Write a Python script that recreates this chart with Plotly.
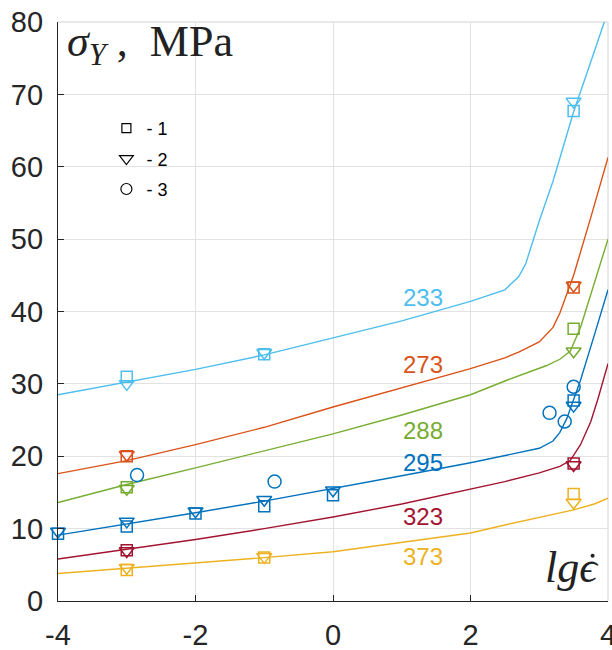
import plotly.graph_objects as go

# Yield stress curves for six temperatures (K) vs log strain rate
temps = ["233", "273", "288", "295", "323", "373"]
colors = ["#4DBEEE", "#D95319", "#77AC30", "#0072BD", "#A2142F", "#EDB120"]

x_233 = [-4, -3, -2, -1, 0, 1, 2, 2.5, 2.7, 2.8, 2.9, 3.0, 3.2, 3.5, 3.75, 4.0]
y_233 = [28.5, 30.2, 32.0, 34.0, 36.3, 38.7, 41.4, 43.0, 44.8, 46.5, 49.5, 52.5, 58.0, 67.6, 74.5, 81.5]

x_273 = [-4, -3, -2, -1, 0, 1, 2, 2.5, 2.7, 3.0, 3.2, 3.3, 3.4, 3.5, 3.75, 4.0]
y_273 = [17.6, 19.4, 21.6, 24.0, 26.8, 29.5, 32.1, 33.6, 34.4, 35.8, 37.8, 39.8, 42.3, 45.0, 53.0, 61.3]

x_288 = [-4, -3, -2, -1, 0, 1, 2, 2.5, 2.8, 3.1, 3.3, 3.45, 3.6, 3.8, 4.0]
y_288 = [13.6, 16.1, 18.4, 20.8, 23.1, 25.7, 28.5, 30.4, 31.5, 32.5, 33.4, 34.5, 37.8, 44.0, 50.0]

x_295 = [-4, -3, -2, -1, 0, 1, 2, 2.5, 3.0, 3.2, 3.3, 3.4, 3.5, 3.6, 3.8, 4.0]
y_295 = [9.1, 10.6, 12.2, 13.8, 15.5, 17.3, 19.1, 20.1, 21.1, 22.1, 23.3, 25.2, 27.8, 30.5, 36.7, 43.0]

x_323 = [-4, -3, -2, -1, 0, 1, 2, 2.5, 3.0, 3.3, 3.45, 3.6, 3.75, 3.85, 4.0]
y_323 = [5.8, 7.1, 8.5, 10.0, 11.6, 13.4, 15.4, 16.5, 17.7, 18.6, 19.4, 21.6, 24.8, 27.8, 32.8]

x_373 = [-4, -3, -2, -1, 0, 1, 2, 2.5, 3.0, 3.5, 3.8, 4.0]
y_373 = [3.8, 4.5, 5.2, 6.0, 6.8, 8.1, 9.4, 10.5, 11.6, 12.6, 13.4, 14.2]

curves_x = [x_233, x_273, x_288, x_295, x_323, x_373]
curves_y = [y_233, y_273, y_288, y_295, y_323, y_373]

# Experimental points: 1 - squares, 2 - triangles, 3 - circles
sq_x = {"233": [-3, -1, 3.5], "273": [-3, 3.5], "288": [-3, 3.5],
        "295": [-4, -3, -2, -1, 0, 3.5], "323": [-3, 3.5], "373": [-3, -1, 3.5]}
sq_y = {"233": [31.0, 34.1, 67.7], "273": [20.0, 43.3], "288": [15.7, 37.6],
        "295": [9.3, 10.3, 12.1, 13.1, 14.6, 27.7], "323": [7.0, 19.0], "373": [4.3, 6.0, 14.8]}
tri_x = sq_x
tri_y = {"233": [30.0, 34.3, 69.0], "273": [20.2, 43.6], "288": [15.5, 34.5],
         "295": [9.6, 11.0, 12.4, 14.0, 15.3, 27.0], "323": [6.9, 18.8], "373": [4.6, 6.1, 13.6]}
circ_x = [-2.85, -0.85, 3.15, 3.37, 3.5]
circ_y = [17.4, 16.5, 26.0, 24.8, 29.6]

# Curve labels
label_x = 1.31
label_y = [42.0, 32.7, 23.6, 19.2, 11.7, 6.2]

x_ticks = [-4, -2, 0, 2, 4]
x_ticktext = ["-4", "-2", "0", "2", "4"]
y_ticks = [0, 10, 20, 30, 40, 50, 60, 70, 80]

fig = go.Figure()

for t, c, xs, ys in zip(temps, colors, curves_x, curves_y):
    fig.add_trace(go.Scatter(x=xs, y=ys, mode="lines", line=dict(color=c, width=1.4),
                             showlegend=False, hoverinfo="skip"))

for t, c in zip(temps, colors):
    fig.add_trace(go.Scatter(x=sq_x[t], y=sq_y[t], mode="markers", showlegend=False,
                             cliponaxis=False,
                             marker=dict(symbol="square-open", size=11, color=c,
                                         line=dict(width=1.5, color=c))))
    fig.add_trace(go.Scatter(x=tri_x[t], y=tri_y[t], mode="markers", showlegend=False,
                             cliponaxis=False,
                             marker=dict(symbol="triangle-down-open", size=13, color=c,
                                         line=dict(width=1.5, color=c))))

fig.add_trace(go.Scatter(x=circ_x, y=circ_y, mode="markers", showlegend=False,
                         cliponaxis=False,
                         marker=dict(symbol="circle-open", size=13, color="#0072BD",
                                     line=dict(width=1.5, color="#0072BD"))))

# Legend entries for the point types
for name, sym, sz in [("- 1", "square-open", 9), ("- 2", "triangle-down-open", 12),
                      ("- 3", "circle-open", 11)]:
    fig.add_trace(go.Scatter(x=[None], y=[None], mode="markers", name=name,
                             legendgroup=name,
                             marker=dict(symbol=sym, size=sz, color="black",
                                         line=dict(width=1.2, color="black"))))

for t, c, ly in zip(temps, colors, label_y):
    fig.add_annotation(x=label_x, y=ly, text=t, showarrow=False,
                       font=dict(family="Liberation Sans, Arial", size=24, color=c))

# Axis titles placed inside the plot area
fig.add_annotation(xref="paper", yref="paper", x=0.012, y=0.962, xanchor="left",
                   yanchor="middle", showarrow=False,
                   text="<i>σ</i><sub><i>Y</i></sub> ,  MPa",
                   font=dict(family="Liberation Serif, Times New Roman", size=44, color="#222"))
fig.add_annotation(xref="paper", yref="paper", x=0.987, y=0.058, xanchor="right",
                   yanchor="middle", showarrow=False,
                   text="<i>lgϵ</i>",
                   font=dict(family="Liberation Serif, DejaVu Serif", size=44, color="#222"))
# dot accent over the epsilon
fig.add_shape(type="circle", xref="paper", yref="paper", xsizemode="pixel", ysizemode="pixel",
              xanchor=0.972, yanchor=0.078, x0=-2, x1=2, y0=-2, y1=2,
              fillcolor="#222", line=dict(width=0))

axis_common = dict(showgrid=True, gridcolor="#e2e2e2", gridwidth=1, zeroline=False,
                   showline=True, linecolor="#262626", linewidth=1.3,
                   ticks="inside", ticklen=6, tickcolor="#262626", tickwidth=1.2,
                   ticklabeloverflow="allow", automargin=False,
                   tickfont=dict(family="Liberation Sans, Arial", size=29, color="#262626"))

fig.update_xaxes(range=[-4, 4], tickvals=x_ticks, ticktext=x_ticktext,
                 ticklabelstandoff=8, **axis_common)
fig.update_yaxes(range=[0, 80], tickvals=y_ticks, ticklabelstandoff=8, **axis_common)

# Light frame on the top and right edges, like the grid
fig.add_shape(type="line", xref="paper", yref="paper", x0=1, x1=1, y0=0, y1=1,
              line=dict(color="#e2e2e2", width=1.5), layer="below")
fig.add_shape(type="line", xref="paper", yref="paper", x0=0, x1=1, y0=1, y1=1,
              line=dict(color="#e2e2e2", width=1.5), layer="below")

fig.update_layout(
    width=612, height=650,
    margin=dict(l=58, r=4, t=22, b=49),
    plot_bgcolor="white", paper_bgcolor="white",
    showlegend=True,
    legend=dict(x=0.088, y=0.848, xanchor="left", yanchor="top",
                bgcolor="rgba(0,0,0,0)", tracegroupgap=4,
                font=dict(family="Liberation Sans, Arial", size=18, color="black")),
)

fig.write_html("out.html")
